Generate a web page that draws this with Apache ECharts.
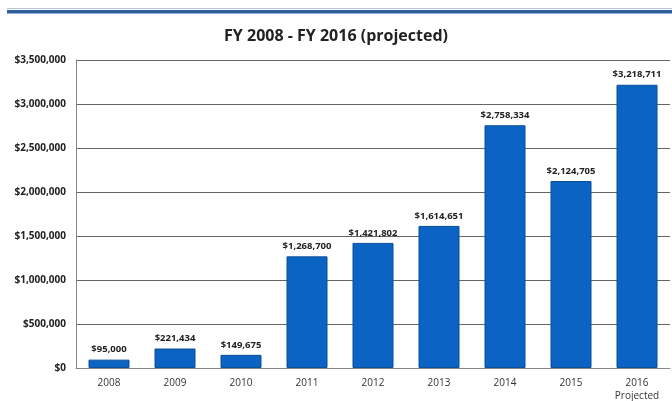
<!DOCTYPE html>
<html><head><meta charset="utf-8">
<script src="https://cdn.jsdelivr.net/npm/echarts@6/dist/echarts.min.js"></script>
<style>html,body{margin:0;padding:0;background:#fff}#c{width:672px;height:401px}</style>
</head><body><div id="c"></div>
<script>
const categories = ['2008','2009','2010','2011','2012','2013','2014','2015','2016\nProjected'];
const values = [95000, 221434, 149675, 1268700, 1421802, 1614651, 2758334, 2124705, 3218711];
const yTicks = [0, 500000, 1000000, 1500000, 2000000, 2500000, 3000000, 3500000];
const title = 'FY 2008 - FY 2016 (projected)';

function money(v){ return '$' + v.toLocaleString('en-US'); }
const chart = echarts.init(document.getElementById('c'));
chart.setOption({
  animation:false,
  title:{text:title,left:'center',top:23,textStyle:{fontFamily:'Open Sans',fontWeight:'bold',fontSize:16,color:'#222'}},
  graphic:[{type:'rect',shape:{x:7,y:10,width:665,height:3.5},style:{fill:'#2b5c9c'}},
           {type:'rect',shape:{x:7,y:8,width:665,height:1},style:{fill:'#b8c4d4'}}],
  grid:{left:76,right:2,top:60,bottom:33,containLabel:false,outerBoundsMode:'none'},
  xAxis:{type:'category',data:categories,
    axisLine:{lineStyle:{color:'#888',width:1}},axisTick:{show:false},
    axisLabel:{fontFamily:'Open Sans',fontSize:10,color:'#333',margin:9,lineHeight:13}},
  yAxis:{type:'value',min:0,max:3500000,interval:500000,
    axisLine:{show:true,lineStyle:{color:'#888'}},axisTick:{show:false},
    splitLine:{lineStyle:{color:'#666',width:1}},
    axisLabel:{fontFamily:'Open Sans',fontWeight:'bold',fontSize:10,color:'#222',margin:10,
      formatter:v=>yTicks.includes(v)?money(v):''}},
  series:[{type:'bar',data:values,barWidth:41,
    itemStyle:{color:'#0b63c4',borderColor:'#0a4f98',borderWidth:1},
    label:{show:true,position:'top',distance:5,formatter:p=>money(p.value),
      fontFamily:'Open Sans',fontWeight:'bold',fontSize:9.5,color:'#222'}}]
});
</script></body></html>
